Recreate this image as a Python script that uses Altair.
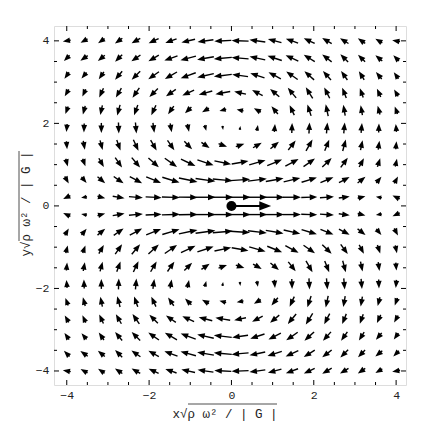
import math
import altair as alt
import pandas as pd

# grid of sample points (both axes)
GRID = [-4.0, -3.58, -3.16, -2.74, -2.32, -1.89, -1.47, -1.05, -0.63, -0.21,
        0.21, 0.63, 1.05, 1.47, 1.89, 2.32, 2.74, 3.16, 3.58, 4.0]
ROWS_UPPER = [4.0, 3.58, 3.16, 2.74, 2.32, 1.89, 1.47, 1.05, 0.63, 0.21]

# arrow directions (degrees, counter-clockwise from +x) for the upper half, row by row
ANG_UPPER = [
    [190, 210, 215, 215, 210, 205, 200, 193, 188, 183, 178, 172, 165, 160, 155, 150, 148, 145, 150, 170],
    [225, 215, 220, 225, 215, 210, 200, 195, 190, 185, 175, 168, 162, 155, 148, 142, 135, 135, 140, 135],
    [235, 230, 235, 230, 225, 215, 210, 200, 193, 187, 172, 162, 152, 145, 138, 132, 125, 122, 130, 125],
    [240, 245, 245, 240, 235, 225, 215, 205, 195, 190, 168, 152, 140, 130, 122, 117, 112, 110, 115, 120],
    [250, 255, 258, 255, 250, 245, 235, 225, 210, 195, 168, 150, 130, 115, 108, 102, 100, 100, 105, 110],
    [265, 268, 270, 272, 275, 278, 280, 282, 285, 280, 82, 80, 85, 88, 87, 85, 85, 85, 88, 95],
    [275, 280, 285, 290, 295, 300, 305, 315, 325, 340, 18, 30, 40, 52, 60, 68, 75, 78, 82, 85],
    [285, 290, 300, 305, 310, 318, 325, 335, 342, 348, 10, 16, 22, 28, 35, 44, 54, 62, 72, 78],
    [300, 310, 320, 325, 332, 338, 343, 348, 352, 355, 4, 7, 10, 13, 17, 22, 28, 38, 50, 62],
    [205, 190, 345, 350, 355, 357, 358, 359, 0, 0, 0, 0, 0, 0, 2, 4, 8, 15, 170, 155],
]
# arrow lengths (pixels) for the upper half
LEN_UPPER = [
    [8, 8, 8, 9, 10, 11, 12, 14, 16, 17, 17, 16, 14, 13, 12, 11, 10, 9, 8, 8],
    [8, 9, 9, 10, 11, 12, 14, 16, 17, 18, 17, 16, 15, 14, 13, 12, 11, 10, 9, 8],
    [8, 8, 9, 11, 12, 13, 14, 16, 17, 18, 16, 15, 14, 14, 13, 12, 11, 10, 9, 8],
    [8, 8, 10, 11, 12, 12, 12, 13, 14, 15, 12, 12, 12, 13, 13, 12, 11, 10, 9, 8],
    [8, 9, 10, 11, 11, 11, 10, 9, 8, 7, 7, 8, 10, 11, 12, 12, 11, 10, 9, 8],
    [8, 9, 10, 11, 11, 10, 9, 8, 6, 4, 4, 6, 8, 10, 11, 11, 11, 10, 9, 8],
    [8, 9, 10, 11, 12, 12, 12, 11, 10, 9, 9, 10, 11, 12, 13, 12, 12, 10, 9, 8],
    [8, 8, 10, 12, 13, 14, 15, 16, 17, 17, 17, 17, 16, 15, 14, 13, 12, 10, 9, 8],
    [8, 8, 10, 12, 14, 16, 18, 19, 20, 20, 20, 19, 18, 17, 16, 14, 12, 10, 8, 8],
    [8, 6, 8, 12, 14, 16, 18, 19, 20, 21, 21, 20, 19, 18, 16, 14, 11, 8, 6, 8],
]

MAJOR_TICKS = [-4, -2, 0, 2, 4]
MINOR_TICKS = [-3.5, -3, -2.5, -1.5, -1, -0.5, 0.5, 1, 1.5, 2.5, 3, 3.5]
SOURCE = {"x": [0.0], "y": [0.0], "x2": [0.82]}

W, H = 352, 359
XDOM = [-4.31, 4.24]
YDOM = [-4.34, 4.36]
KX = (XDOM[1] - XDOM[0]) / W
KY = (YDOM[1] - YDOM[0]) / H

rows = []
def add(xv, yv, ang, length):
    t = math.radians(ang)
    dx, dy = math.cos(t), math.sin(t)
    h = min(7.5, 0.9 * length)
    half = 0.5 * length
    rows.append({
        "tx": xv - half * dx * KX, "ty": yv - half * dy * KY,
        "sx": xv + (half - 0.7 * h) * dx * KX, "sy": yv + (half - 0.7 * h) * dy * KY,
        "hx": xv + (half - 0.5 * h) * dx * KX, "hy": yv + (half - 0.5 * h) * dy * KY,
        "rot": (360 - ang) % 360, "sz": h * h,
    })

for r, yv in enumerate(ROWS_UPPER):
    for c, xv in enumerate(GRID):
        add(xv, yv, ANG_UPPER[r][c], LEN_UPPER[r][c])
        add(xv, -yv, (360 - ANG_UPPER[r][c]) % 360, LEN_UPPER[r][c])

df = pd.DataFrame(rows)
xs = alt.Scale(domain=XDOM, nice=False, zero=False)
ys = alt.Scale(domain=YDOM, nice=False, zero=False)
HEAD = "M1,0L-1,-0.78L-1,0.78Z"

base = alt.Chart(df)
shafts = base.mark_rule(color="black", strokeWidth=1.4).encode(
    x=alt.X("tx:Q", scale=xs, axis=alt.Axis(values=MAJOR_TICKS, ticks=False, domain=False, grid=False,
                                            labelFont="Liberation Mono", labelFontSize=11.5,
                                            labelColor="#222", labelPadding=4, title=None)),
    y=alt.Y("ty:Q", scale=ys, axis=alt.Axis(values=MAJOR_TICKS, ticks=False, domain=False, grid=False,
                                            labelFont="Liberation Mono", labelFontSize=11.5,
                                            labelColor="#222", labelPadding=5, title=None)),
    x2="sx:Q", y2="sy:Q",
)
heads = base.mark_point(shape=HEAD, filled=True, color="black", opacity=1, strokeWidth=0).encode(
    x=alt.X("hx:Q", scale=xs), y=alt.Y("hy:Q", scale=ys),
    angle=alt.Angle("rot:Q", scale=None), size=alt.Size("sz:Q", scale=None),
)

src = alt.Chart(pd.DataFrame(SOURCE))
src_shaft = src.mark_rule(color="black", strokeWidth=2).encode(
    x=alt.X("x:Q", scale=xs), y=alt.Y("y:Q", scale=ys), x2=alt.X2("x2:Q"))
src_head = src.mark_point(shape=HEAD, filled=True, color="black", opacity=1, size=140, angle=0,
                          strokeWidth=0, dx=-6).encode(x=alt.X("x2:Q", scale=xs), y=alt.Y("y:Q", scale=ys))
src_dot = src.mark_point(shape="circle", filled=True, color="black", opacity=1, size=100).encode(
    x=alt.X("x:Q", scale=xs), y=alt.Y("y:Q", scale=ys))

tmaj = alt.Chart(pd.DataFrame({"v": MAJOR_TICKS}))
tmin = alt.Chart(pd.DataFrame({"v": MINOR_TICKS}))
ticks = []
for tc, ln in ((tmaj, 5), (tmin, 3)):
    ticks.append(tc.mark_rule(color="black").encode(x=alt.X("v:Q", scale=xs), y=alt.value(H), y2=alt.value(H - ln)))
    ticks.append(tc.mark_rule(color="black").encode(x=alt.X("v:Q", scale=xs), y=alt.value(0), y2=alt.value(ln)))
    ticks.append(tc.mark_rule(color="black").encode(y=alt.Y("v:Q", scale=ys), x=alt.value(0), x2=alt.value(ln)))
    ticks.append(tc.mark_rule(color="black").encode(y=alt.Y("v:Q", scale=ys), x=alt.value(W), x2=alt.value(W - ln)))

TITLE_X = "x√ρ ω² / | G |"
TITLE_Y = "y√ρ ω² / | G |"
lab = alt.Chart(pd.DataFrame({"t": [TITLE_X]}))
xtitle = lab.mark_text(font="Liberation Mono", fontSize=12.5, color="#222", align="center",
                       baseline="alphabetic").encode(text="t:N", x=alt.value(171), y=alt.value(392))
laby = alt.Chart(pd.DataFrame({"t": [TITLE_Y]}))
ytitle = laby.mark_text(font="Liberation Mono", fontSize=12.5, color="#222", align="center",
                        baseline="alphabetic", angle=270).encode(text="t:N", x=alt.value(-24), y=alt.value(178))
xbar = lab.mark_rule(color="#222", strokeWidth=0.8).encode(x=alt.value(134), x2=alt.value(223), y=alt.value(378))
ybar = laby.mark_rule(color="#222", strokeWidth=0.8).encode(y=alt.value(125), y2=alt.value(215), x=alt.value(-35))

chart = alt.layer(shafts, heads, src_shaft, src_head, src_dot, *ticks, xtitle, ytitle, xbar, ybar).properties(
    width=W, height=H,
    autosize=alt.AutoSizeParams(type="none"),
    padding={"left": 46, "top": 18, "right": 20, "bottom": 40},
).configure_view(stroke="black", strokeWidth=1.2).configure(background="white")

chart.save("out.html", embed_options={"renderer": "svg", "actions": False})
